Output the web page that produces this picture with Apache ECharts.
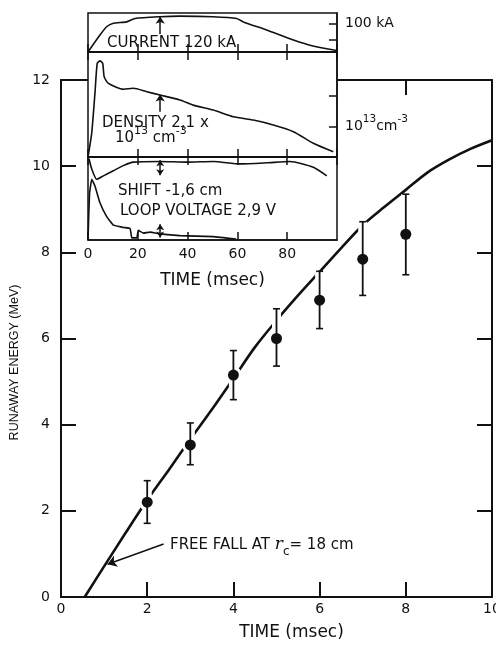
<!DOCTYPE html>
<html><head><meta charset="utf-8">
<script src="https://cdn.jsdelivr.net/npm/echarts@6/dist/echarts.min.js"></script>
<style>html,body{margin:0;padding:0;background:#fff}#c{width:496px;height:647px}</style>
</head><body><div id="c"></div>
<script>
// ---- main chart data ----
const timeMs = [2, 3, 4, 5, 6, 7, 8];
const energyMeV = [2.20, 3.53, 5.15, 6.00, 6.89, 7.84, 8.42];
const energyLow = [1.71, 3.07, 4.58, 5.36, 6.23, 7.00, 7.48];
const energyHigh = [2.70, 4.04, 5.72, 6.69, 7.56, 8.71, 9.35];
const freeFallTime = [0.55, 1.0, 1.5, 2.0, 2.5, 3.0, 3.5, 4.0, 4.5, 5.0, 5.5, 6.0, 6.5, 7.0, 7.5, 8.0, 8.5, 9.0, 9.5, 10.0];
const freeFallEnergy = [0, 0.71, 1.49, 2.25, 2.95, 3.66, 4.35, 5.07, 5.80, 6.42, 7.00, 7.55, 8.10, 8.63, 9.05, 9.45, 9.85, 10.15, 10.40, 10.60];
const arrowFrom = [2.38, 1.23];
const arrowTo = [1.08, 0.76];
// ---- inset traces ----
const currentTime = [0, 4.8, 7.5, 10.2, 15.5, 18.9, 28.9, 36.9, 50.2, 59.7, 62.4, 71.7, 82.5, 90.4, 99.9];
const currentKA = [0, 59, 88, 100, 105, 117, 123, 125, 123, 117, 105, 77, 42, 21, 5];
const currentTicks = [44, 100];
const densityTime = [0, 1.5, 2.8, 3.7, 4.8, 5.9, 6.5, 8.2, 14.2, 18.2, 23.6, 28.9, 36.9, 42.3, 50.3, 58.4, 66.4, 74.4, 82.5, 90.5, 98.5];
const density = [0, 0.79, 2.10, 3.07, 3.15, 3.07, 2.63, 2.41, 2.22, 2.25, 2.14, 2.03, 1.87, 1.70, 1.54, 1.32, 1.21, 1.05, 0.83, 0.45, 0.17];
const densityTicks = [1, 2];
const shiftTime = [0.4, 1.5, 3.5, 6.2, 10.2, 14.2, 18.2, 28.9, 39.6, 50.3, 61.0, 71.7, 81.1, 90.5, 95.9];
const shiftVal = [97.9, 85.6, 73.2, 77.3, 83.5, 89.6, 93.8, 94.6, 93.8, 94.6, 91.7, 93.0, 94.6, 87.7, 77.3];
const loopTime = [0, 0.6, 1.5, 2.8, 4.8, 7.5, 10.2, 14.2, 16.9, 17.6, 19.6, 20.2, 22.2, 24.9, 28.9, 36.9, 50.3, 59.5];
const loopVal = [0, 55, 73.2, 65, 44.8, 28.2, 17.9, 15.1, 13.8, 2.6, 2.6, 11.6, 8.3, 9.5, 7.4, 5.3, 4.1, 1.2];
const insetArrowTime = 29;

const INK = '#111';
const F = 'DejaVu Sans';
const zip = (a, b) => a.map((v, i) => [v, b[i]]);

const chart = echarts.init(document.getElementById('c'), null, {renderer: 'canvas'});

const mainTick = {show: true, inside: true, length: 15, lineStyle: {color: INK, width: 2}};
const mainLine = {show: true, onZero: false, lineStyle: {color: INK, width: 2}};
const insTick = {show: true, inside: true, length: 8, lineStyle: {color: INK, width: 1.5}};
const insLine = {show: true, onZero: false, lineStyle: {color: INK, width: 1.5}};
function insetX(grid, pos, extra) {
  return Object.assign({
    type: 'value', gridIndex: grid, position: pos, min: 0, max: 100, interval: 20,
    axisLine: insLine, axisTick: insTick, axisLabel: {show: false}, splitLine: {show: false}, z: 6
  }, extra || {});
}
const insetGrid = {show: true, backgroundColor: '#fff', borderColor: INK, borderWidth: 1.5, z: 5, outerBoundsMode: 'none', containLabel: false};

const option = {
  animation: false,
  backgroundColor: '#fff',
  grid: [
    {left: 61, top: 80, width: 431, height: 517, outerBoundsMode: 'none', containLabel: false},
    Object.assign({left: 88, top: 13, width: 249, height: 39}, insetGrid),
    Object.assign({left: 88, top: 52, width: 249, height: 105}, insetGrid),
    Object.assign({left: 88, top: 157, width: 249, height: 83}, insetGrid)
  ],
  xAxis: [
    {type: 'value', gridIndex: 0, position: 'bottom', min: 0, max: 10, interval: 2,
     axisLine: mainLine, axisTick: mainTick, splitLine: {show: false},
     axisLabel: {color: INK, fontFamily: F, fontSize: 14, margin: 5},
     name: 'TIME (msec)', nameLocation: 'middle', nameGap: 27,
     nameTextStyle: {color: INK, fontFamily: F, fontSize: 17, padding: [0, 0, 0, 30]}},
    {type: 'value', gridIndex: 0, position: 'top', min: 0, max: 10, interval: 2,
     axisLine: mainLine, axisTick: mainTick, axisLabel: {show: false}, splitLine: {show: false}},
    insetX(1, 'bottom'),
    insetX(2, 'top'),
    insetX(2, 'bottom'),
    insetX(3, 'top'),
    insetX(3, 'bottom', {
      axisLabel: {show: true, color: INK, fontFamily: F, fontSize: 14, margin: 7, showMaxLabel: false},
      name: 'TIME (msec)', nameLocation: 'middle', nameGap: 32,
      nameTextStyle: {color: INK, fontFamily: F, fontSize: 17}
    })
  ],
  yAxis: [
    {type: 'value', gridIndex: 0, position: 'left', min: 0, max: 12, interval: 2,
     axisLine: mainLine, axisTick: mainTick, splitLine: {show: false},
     axisLabel: {color: INK, fontFamily: F, fontSize: 14, margin: 11},
     name: 'RUNAWAY ENERGY (MeV)', nameLocation: 'middle', nameGap: 31,
     nameTextStyle: {color: INK, fontFamily: 'Liberation Sans', fontSize: 12.5, padding: [0, 48, 0, 0]}},
    {type: 'value', gridIndex: 0, position: 'right', min: 0, max: 12, interval: 2,
     axisLine: mainLine, axisTick: mainTick, axisLabel: {show: false}, splitLine: {show: false}},
    {type: 'value', gridIndex: 1, position: 'right', min: 0, max: 136, z: 6,
     axisLine: insLine, splitLine: {show: false},
     axisTick: Object.assign({}, insTick, {customValues: currentTicks}),
     axisLabel: {show: true, customValues: [100], color: INK, fontFamily: F, fontSize: 14, margin: 8,
                 formatter: () => '100 kA'}},
    {type: 'value', gridIndex: 2, position: 'right', min: 0, max: 3.44, z: 6,
     axisLine: insLine, splitLine: {show: false},
     axisTick: Object.assign({}, insTick, {customValues: densityTicks}),
     axisLabel: {show: true, customValues: [1], margin: 8, color: INK,
                 formatter: () => '{n|10}{p|13}{n|cm}{p|-3}',
                 rich: {n: {fontFamily: F, fontSize: 14, color: INK, lineHeight: 26},
                        p: {fontFamily: F, fontSize: 10.5, color: INK, lineHeight: 11, verticalAlign: 'top'}}}},
    {type: 'value', gridIndex: 3, position: 'left', min: 0, max: 100, show: false}
  ],
  graphic: [
    {type: 'text', x: 107, y: 43.5, z: 20, style: {text: 'CURRENT 120 kA', font: '15px "DejaVu Sans"', fill: INK, verticalAlign: 'middle', textVerticalAlign: 'middle'}},
    {type: 'text', x: 102, y: 123, z: 20, style: {text: 'DENSITY 2,1 x', font: '15px "DejaVu Sans"', fill: INK, verticalAlign: 'middle', textVerticalAlign: 'middle'}},
    {type: 'text', x: 115, y: 138.5, z: 20, style: {text: '{n|10}{p|13}{n| cm}{p|-3}', verticalAlign: 'middle', textVerticalAlign: 'middle',
      rich: {n: {fontFamily: F, fontSize: 15, fill: INK, color: INK, lineHeight: 26},
             p: {fontFamily: F, fontSize: 11, fill: INK, color: INK, lineHeight: 11, verticalAlign: 'top'}}}},
    {type: 'text', x: 118, y: 191, z: 20, style: {text: 'SHIFT -1,6 cm', font: '15px "DejaVu Sans"', fill: INK, verticalAlign: 'middle', textVerticalAlign: 'middle'}},
    {type: 'text', x: 120, y: 211, z: 20, style: {text: 'LOOP VOLTAGE 2,9 V', font: '15px "DejaVu Sans"', fill: INK, verticalAlign: 'middle', textVerticalAlign: 'middle'}},
    {type: 'text', x: 170, y: 545, z: 20, style: {text: '{n|FREE FALL AT }{i|r}{s|c}{n|= 18 cm}', verticalAlign: 'middle', textVerticalAlign: 'middle',
      rich: {n: {fontFamily: F, fontSize: 15, color: INK, fill: INK, lineHeight: 26},
             i: {fontFamily: 'DejaVu Serif', fontStyle: 'italic', fontSize: 17, color: INK, fill: INK, lineHeight: 26},
             s: {fontFamily: F, fontSize: 12, color: INK, fill: INK, lineHeight: 12, verticalAlign: 'bottom'}}}}
  ],
  series: [
    {type: 'line', xAxisIndex: 0, yAxisIndex: 0, data: zip(freeFallTime, freeFallEnergy),
     symbol: 'none', smooth: 0.3, lineStyle: {color: INK, width: 2.6}, z: 2,
     markLine: {silent: true, symbol: ['none', 'arrow'], symbolSize: 9, label: {show: false},
                lineStyle: {color: INK, width: 1.4, type: 'solid'},
                data: [[{coord: arrowFrom}, {coord: arrowTo}]]}},
    {type: 'custom', xAxisIndex: 0, yAxisIndex: 0, z: 3,
     data: timeMs.map((t, i) => [t, energyLow[i], energyHigh[i], energyMeV[i]]),
     renderItem: function (params, api) {
       const x = api.value(0);
       const pl = api.coord([x, api.value(1)]);
       const ph = api.coord([x, api.value(2)]);
       const pm = api.coord([x, api.value(3)]);
       const c = 3.5;
       return {type: 'group', children: [
         {type: 'line', shape: {x1: pl[0], y1: pl[1], x2: ph[0], y2: ph[1]}, style: {stroke: '#fff', lineWidth: 9, lineCap: 'butt'}},
         {type: 'circle', shape: {cx: pm[0], cy: pm[1], r: 8.5}, style: {fill: '#fff'}},
         {type: 'line', shape: {x1: pl[0], y1: pl[1], x2: ph[0], y2: ph[1]}, style: {stroke: INK, lineWidth: 1.8}},
         {type: 'line', shape: {x1: pl[0] - c, y1: pl[1], x2: pl[0] + c, y2: pl[1]}, style: {stroke: INK, lineWidth: 1.6}},
         {type: 'line', shape: {x1: ph[0] - c, y1: ph[1], x2: ph[0] + c, y2: ph[1]}, style: {stroke: INK, lineWidth: 1.6}}
       ]};
     }},
    {type: 'scatter', xAxisIndex: 0, yAxisIndex: 0, z: 4, data: zip(timeMs, energyMeV),
     symbol: 'circle', symbolSize: 11, itemStyle: {color: INK, opacity: 1}},
    {type: 'line', xAxisIndex: 2, yAxisIndex: 2, z: 7, data: zip(currentTime, currentKA),
     symbol: 'none', smooth: 0.2, lineStyle: {color: INK, width: 1.6},
     markLine: {silent: true, symbol: ['none', 'arrow'], symbolSize: 7, label: {show: false},
                lineStyle: {color: INK, width: 1.5, type: 'solid'},
                data: [[{coord: [insetArrowTime, 63]}, {coord: [insetArrowTime, 123]}]]}},
    {type: 'line', xAxisIndex: 4, yAxisIndex: 3, z: 7, data: zip(densityTime, density),
     symbol: 'none', smooth: 0.2, lineStyle: {color: INK, width: 1.6},
     markLine: {silent: true, symbol: ['none', 'arrow'], symbolSize: 7, label: {show: false},
                lineStyle: {color: INK, width: 1.5, type: 'solid'},
                data: [[{coord: [insetArrowTime, 1.48]}, {coord: [insetArrowTime, 2.05]}]]}},
    {type: 'line', xAxisIndex: 6, yAxisIndex: 4, z: 7, data: zip(shiftTime, shiftVal),
     symbol: 'none', smooth: 0.2, lineStyle: {color: INK, width: 1.6},
     markLine: {silent: true, symbol: ['arrow', 'arrow'], symbolSize: 6, label: {show: false},
                lineStyle: {color: INK, width: 1.5, type: 'solid'},
                data: [[{coord: [insetArrowTime, 78]}, {coord: [insetArrowTime, 96]}],
                       [{coord: [insetArrowTime, 3]}, {coord: [insetArrowTime, 19]}]]}},
    {type: 'line', xAxisIndex: 6, yAxisIndex: 4, z: 7, data: zip(loopTime, loopVal),
     symbol: 'none', smooth: 0.1, lineStyle: {color: INK, width: 1.6}}
  ]
};
chart.setOption(option);
</script>
</body></html>
